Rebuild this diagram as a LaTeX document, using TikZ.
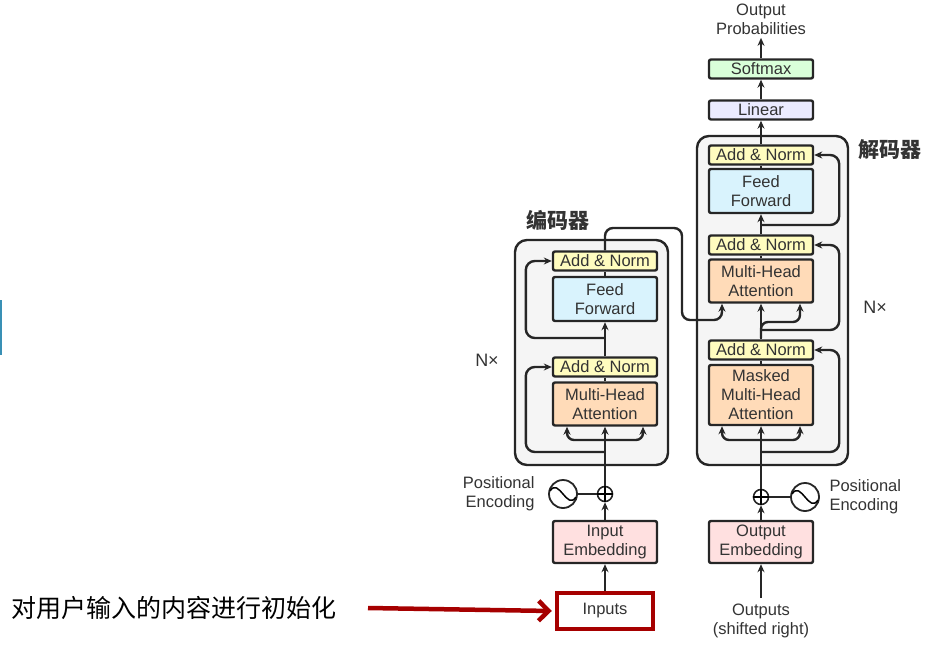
\documentclass[tikz,border=0pt]{standalone}
\usepackage{fontspec}
\setmainfont{Liberation Sans}
\newfontfamily\cjk{Noto Sans CJK SC}
\usetikzlibrary{arrows.meta,calc}
\begin{document}
\begin{tikzpicture}[x=1pt,y=-1pt,
 every node/.style={font=\fontsize{16.5}{19}\selectfont, text=black!80},
 blk/.style={draw=black!85, line width=2.4pt, rounded corners=2pt, minimum width=104pt, align=center, inner sep=0pt},
 an/.style={blk, fill=yellow!25!white, minimum height=19pt},
 ff/.style={blk, fill=cyan!15!white, minimum height=44pt},
 mha/.style={blk, fill=orange!28!white, minimum height=43pt},
 emb/.style={blk, fill=red!12!white, minimum height=42pt},
 outer/.style={draw=black!85, line width=2.4pt, rounded corners=12pt, fill=black!4},
 ln/.style={line width=2.4pt, draw=black!85},
 arr/.style={ln, -{Stealth[length=8pt,width=7pt]}},
 txt/.style={align=center}
]
\useasboundingbox (0,0) rectangle (941,660);
\fill[cyan!70!black] (0,300) rectangle (2,355);
% outer boxes
\draw[outer] (515,240) rectangle (668,465);
\draw[outer] (697,136) rectangle (848,465);
% encoder
\node[an] (ean2) at (605,261) {Add \& Norm};
\node[ff] (eff) at (605,299) {Feed\\Forward};
\node[an] (ean1) at (605,367) {Add \& Norm};
\node[mha] (emha) at (605,404) {Multi-Head\\Attention};
\node[draw=black!85,line width=1.6pt,circle,minimum size=15pt,inner sep=0pt] (eplus) at (605,494) {};
\draw[line width=1.3pt] (eplus.north)--(eplus.south) (eplus.west)--(eplus.east);
\node[draw=black!85,line width=1.8pt,circle,minimum size=28pt,inner sep=0pt] (esin) at (563,494) {};
\draw[line width=1.5pt] ($(esin)+(-13,-3)$) .. controls ($(esin)+(-4,-17)$) and ($(esin)+(4,17)$) .. ($(esin)+(13,3)$);
\node[txt,align=right,anchor=east] (epe) at (538,494) {Positional\\Encoding};
\node[emb] (eemb) at (605,542) {Input\\Embedding};
\node[draw=red!65!black,line width=4.5pt,minimum width=96pt,minimum height=36pt] (inp) at (605,611) {Inputs};
\node[font=\fontsize{18}{20}\selectfont] (enx) at (487,360) {N\texttimes};
\node[font=\cjk\bfseries\fontsize{21}{24}\selectfont] (ecn) at (558,220) {编码器};
% encoder connectors
\draw[arr] (inp.north) -- (eemb.south);
\draw[arr] (eemb.north) -- (eplus.south);
\draw[ln] (esin.east) -- (eplus.west);
\coordinate (eb) at (605,440);
\coordinate (el) at (605,452);
\coordinate (em) at (605,338);
\draw[ln] (eplus.north) -- (eb);
\draw[arr] (eb) -- (emha.south);
\draw[arr,rounded corners=7pt] (eb) -| ($(emha.south)+(-38,0)$);
\draw[arr,rounded corners=7pt] (eb) -| ($(emha.south)+(38,0)$);
\draw[arr,rounded corners=9pt] (el) -| ($(ean1.west)+(-26,0)$) -- (ean1.west);
\draw[ln] (emha.north) -- (ean1.south);
\draw[arr] (ean1.north) -- (eff.south);
\draw[arr,rounded corners=9pt] (em) -| ($(ean2.west)+(-26,0)$) -- (ean2.west);
\draw[ln] (eff.north) -- (ean2.south);
% decoder
\node[an] (dan3) at (761,155) {Add \& Norm};
\node[ff] (dff) at (761,191) {Feed\\Forward};
\node[an] (dan2) at (761,245) {Add \& Norm};
\node[mha] (dmha) at (761,281) {Multi-Head\\Attention};
\node[an] (dan1) at (761,350) {Add \& Norm};
\node[blk,fill=orange!28!white,minimum height=60pt] (dmm) at (761,395) {Masked\\Multi-Head\\Attention};
\node[blk,fill=blue!8!white,minimum height=19pt] (lin) at (761,110) {Linear};
\node[blk,fill=green!15!white,minimum height=19pt] (soft) at (761,69) {Softmax};
\node[txt] (prob) at (761,19) {Output\\Probabilities};
\node[draw=black!85,line width=1.6pt,circle,minimum size=15pt,inner sep=0pt] (dplus) at (761,497) {};
\draw[line width=1.3pt] (dplus.north)--(dplus.south) (dplus.west)--(dplus.east);
\node[draw=black!85,line width=1.8pt,circle,minimum size=28pt,inner sep=0pt] (dsin) at (805,497) {};
\draw[line width=1.5pt] ($(dsin)+(-13,-3)$) .. controls ($(dsin)+(-4,-17)$) and ($(dsin)+(4,17)$) .. ($(dsin)+(13,3)$);
\node[txt,align=left,anchor=west] (dpe) at (826,497) {Positional\\Encoding};
\node[emb] (demb) at (761,542) {Output\\Embedding};
\node[txt] (outs) at (761,621) {Outputs\\(shifted right)};
\node[font=\fontsize{18}{20}\selectfont] (dnx) at (875,307) {N\texttimes};
\node[font=\cjk\bfseries\fontsize{21}{24}\selectfont] (dcn) at (890,150) {解码器};
% decoder connectors
\coordinate (os) at (761,598);
\draw[arr] (os) -- (demb.south);
\draw[arr] (demb.north) -- (dplus.south);
\draw[ln] (dsin.west) -- (dplus.east);
\coordinate (db) at (761,440);
\coordinate (dl) at (761,452);
\draw[ln] (dplus.north) -- (db);
\draw[arr] (db) -- (dmm.south);
\draw[arr,rounded corners=7pt] (db) -| ($(dmm.south)+(-39,0)$);
\draw[arr,rounded corners=7pt] (db) -| ($(dmm.south)+(39,0)$);
\draw[arr,rounded corners=9pt] (dl) -| ($(dan1.east)+(25,0)$) -- (dan1.east);
\draw[ln] (dmm.north) -- (dan1.south);
\draw[arr] (dan1.north) -- (dmha.south);
\draw[arr,rounded corners=7pt] (761,338) -- (761,322) -| ($(dmha.south)+(39,0)$);
\draw[arr,rounded corners=9pt] (761,330) -| ($(dan2.east)+(25,0)$) -- (dan2.east);
\draw[ln] (dmha.north) -- (dan2.south);
\draw[arr] (dan2.north) -- (dff.south);
\draw[arr,rounded corners=9pt] (761,225) -| ($(dan3.east)+(25,0)$) -- (dan3.east);
\draw[ln] (dff.north) -- (dan3.south);
\draw[arr] (dan3.north) -- (lin.south);
\draw[arr] (lin.north) -- (soft.south);
\draw[arr] (soft.north) -- (prob.south);
% cross connection
\draw[arr,rounded corners=8pt] (ean2.north) -- (605,228) -| (682,320) -| ($(dmha.south)+(-39,0)$);
% annotation
\node[font=\cjk\fontsize{25}{28}\selectfont,anchor=west,text=black] (ann) at (8,608) {对用户输入的内容进行初始化};
\draw[draw=red!65!black,line width=4.5pt,-{Straight Barb[length=10pt,width=20pt]}] (368,608) -- ([xshift=-3pt]inp.west);
\end{tikzpicture}
\end{document}
